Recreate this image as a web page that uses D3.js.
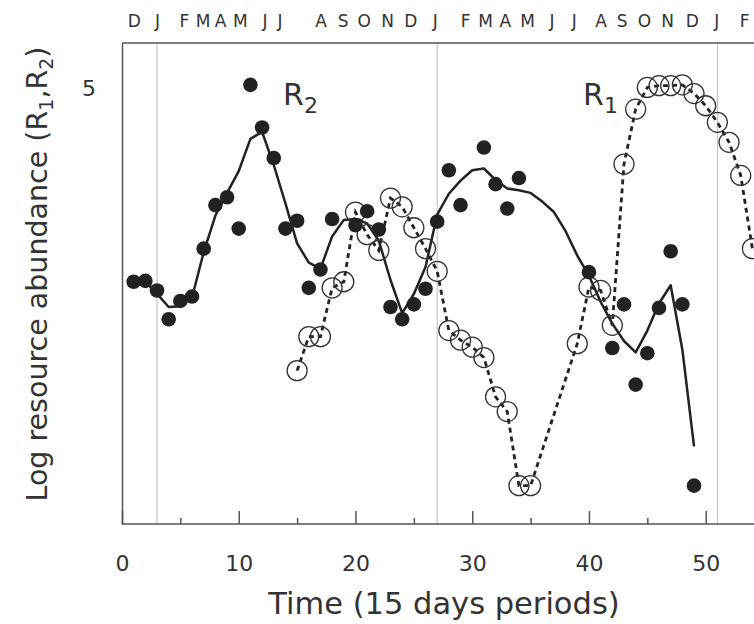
<!DOCTYPE html>
<html>
<head>
<meta charset="utf-8">
<script src="https://cdn.jsdelivr.net/npm/d3@7"></script>
<style>
  body { margin: 0; background: #fff; }
  text { font-family: "DejaVu Sans", sans-serif; fill: #333; }
</style>
</head>
<body>
<script>
// month initials along the top, and where they sit (in 15-day periods)
const monthLabels = ["D","J","F","M","A","M","J","J","A","S","O","N","D","J","F","M","A","M","J","J","A","S","O","N","D","J","F"];
const monthPos = [1.0, 3.0, 5.3, 6.9, 8.4, 10.1, 12.2, 13.5, 17.0, 18.9, 20.7, 22.7, 24.7, 26.8,
                  29.4, 31.1, 32.8, 34.7, 36.8, 38.7, 41.0, 42.8, 44.7, 46.7, 48.8, 50.9, 53.3];
const janPos = [3, 27, 51];
const xTicks = [0, 10, 20, 30, 40, 50];
const xMinor = [5, 15, 25, 35, 45];
const yTicks = [5];

// R2 observations (filled dots)
const r2T   = [1, 2, 3, 4, 5, 6, 7, 8, 9, 10, 11, 12, 13, 14, 15, 16, 17, 18, 20, 21, 22, 23, 24, 25, 26,
               27, 28, 29, 31, 32, 33, 34, 40, 42, 43, 44, 45, 46, 47, 48, 49];
const r2Obs = [2.78, 2.79, 2.68, 2.35, 2.56, 2.61, 3.16, 3.66, 3.75, 3.39, 5.04, 4.55, 4.20, 3.39, 3.48,
               2.71, 2.92, 3.50, 3.43, 3.59, 3.38, 2.49, 2.35, 2.52, 2.70,
               3.47, 4.06, 3.66, 4.32, 3.90, 3.62, 3.97, 2.89, 2.02, 2.52, 1.60, 1.96, 2.48, 3.13, 2.52, 0.44];

// R2 smoothed (solid line)
const fitT  = [2, 3, 4, 5, 6, 7, 8, 9, 10, 11, 12, 13, 14, 15, 16, 17, 18, 19, 20, 21, 22, 23, 24, 25,
               26, 27, 28, 29, 30, 31, 32, 33, 34, 35, 36, 37, 38, 39, 40, 41, 42, 43, 44, 45, 46, 47, 48, 49];
const r2Fit = [2.78, 2.64, 2.49, 2.50, 2.60, 3.12, 3.54, 3.80, 4.05, 4.42, 4.50, 4.12, 3.68, 3.22, 3.00,
               2.93, 3.30, 3.49, 3.50, 3.45, 3.25, 2.80, 2.42, 2.64, 2.95, 3.55, 3.79, 3.94, 4.06, 4.08,
               3.95, 3.85, 3.83, 3.80, 3.70, 3.58, 3.36, 3.08, 2.85, 2.55, 2.30, 2.10, 1.97, 2.22, 2.53,
               2.74, 2.00, 0.89];

// R1 observations (open circles, dashed line)
const r1T   = [15, 16, 17, 18, 19, 20, 21, 22, 23, 24, 25, 26, 27, 28, 29, 30, 31, 32, 33, 34, 35,
               39, 40, 41, 42, 43, 44, 45, 46, 47, 48, 49, 50, 51, 52, 53, 54];
const r1Obs = [1.76, 2.15, 2.15, 2.71, 2.78, 3.58, 3.32, 3.14, 3.74, 3.64, 3.40, 3.16, 2.90, 2.22, 2.11,
               2.03, 1.91, 1.46, 1.29, 0.44, 0.44, 2.07, 2.72, 2.68, 2.28, 4.13, 4.76, 5.01, 5.03, 5.03,
               5.04, 4.94, 4.80, 4.61, 4.38, 4.00, 3.16];

const width = 754, height = 624;
const plotTop = 43, plotBottom = 524, plotLeft = 122;

const x = d3.scaleLinear().domain([0, 50]).range([plotLeft, 705.7]);
const y = d3.scaleLinear().domain([0, 5.52]).range([plotBottom, plotTop]);

const svg = d3.select("body").append("svg")
  .attr("width", width)
  .attr("height", height)
  .attr("viewBox", [0, 0, width, height]);

// January guide lines
svg.append("g")
  .selectAll("line")
  .data(janPos)
  .join("line")
  .attr("x1", d => x(d)).attr("x2", d => x(d))
  .attr("y1", plotTop).attr("y2", plotBottom)
  .attr("stroke", "#bbb")
  .attr("stroke-width", 1);

// frame: top and bottom lines run off the right edge
svg.append("line")
  .attr("x1", plotLeft).attr("x2", width)
  .attr("y1", plotTop).attr("y2", plotTop)
  .attr("stroke", "#555").attr("stroke-width", 1.5);
svg.append("line")
  .attr("x1", plotLeft).attr("x2", width)
  .attr("y1", plotBottom).attr("y2", plotBottom)
  .attr("stroke", "#555").attr("stroke-width", 1.5);

// bottom axis, ticks pointing up
const xAxis = d3.axisBottom(x).tickValues(xTicks).tickSize(-13).tickPadding(31).tickFormat(d3.format("d"));
svg.append("g")
  .attr("transform", `translate(0,${plotBottom})`)
  .call(xAxis)
  .call(g => g.select(".domain").remove())
  .call(g => g.selectAll(".tick line").attr("stroke", "#555").attr("stroke-width", 1.5))
  .call(g => g.selectAll(".tick text").attr("font-size", 22).attr("font-family", "DejaVu Sans").attr("fill", "#333"));

svg.append("g")
  .attr("transform", `translate(0,${plotBottom})`)
  .call(d3.axisBottom(x).tickValues(xMinor).tickSize(-6).tickFormat(""))
  .call(g => g.select(".domain").remove())
  .call(g => g.selectAll(".tick line").attr("stroke", "#555").attr("stroke-width", 1.5));

// left axis: only the line and the "5"
svg.append("g")
  .attr("transform", `translate(${plotLeft},0)`)
  .call(d3.axisLeft(y).tickValues(yTicks).tickSize(0).tickPadding(26).tickSizeOuter(0).tickFormat(d3.format("d")))
  .call(g => g.select(".domain").attr("stroke", "#555").attr("stroke-width", 1.5))
  .call(g => g.selectAll(".tick text").attr("font-size", 22).attr("font-family", "DejaVu Sans").attr("fill", "#333"));

// month initials on top
svg.append("g")
  .attr("transform", `translate(0,${plotTop})`)
  .call(d3.axisTop(x).tickValues(monthPos).tickSize(0).tickPadding(16).tickFormat((d, i) => monthLabels[i]))
  .call(g => g.select(".domain").remove())
  .call(g => g.selectAll(".tick text").attr("font-size", 17).attr("font-family", "DejaVu Sans").attr("fill", "#333"));

// R2 smoothed line
const fitLine = d3.line().x(i => x(fitT[i])).y(i => y(r2Fit[i]));
svg.append("path")
  .attr("d", fitLine(d3.range(fitT.length)))
  .attr("fill", "none")
  .attr("stroke", "#222")
  .attr("stroke-width", 2.5)
  .attr("stroke-linejoin", "round");

// R1 dashed line
const r1Line = d3.line().x(i => x(r1T[i])).y(i => y(r1Obs[i]));
svg.append("path")
  .attr("d", r1Line(d3.range(r1T.length)))
  .attr("fill", "none")
  .attr("stroke", "#222")
  .attr("stroke-width", 2.8)
  .attr("stroke-dasharray", "5,4");

// R1 open circles
svg.append("g")
  .selectAll("circle")
  .data(d3.range(r1T.length))
  .join("circle")
  .attr("cx", i => x(r1T[i]))
  .attr("cy", i => y(r1Obs[i]))
  .attr("r", 10)
  .attr("fill", "none")
  .attr("stroke", "#333")
  .attr("stroke-width", 1.3);

// R2 filled dots
svg.append("g")
  .selectAll("circle")
  .data(d3.range(r2T.length))
  .join("circle")
  .attr("cx", i => x(r2T[i]))
  .attr("cy", i => y(r2Obs[i]))
  .attr("r", 7.3)
  .attr("fill", "#222");

// series labels
function seriesLabel(xp, yp, sub) {
  const t = svg.append("text").attr("x", xp).attr("y", yp).attr("font-size", 30);
  t.append("tspan").text("R");
  t.append("tspan").attr("font-size", 22).attr("dy", 8).text(sub);
}
seriesLabel(x(13.8), 105, "2");
seriesLabel(x(39.5), 105, "1");

// axis titles
svg.append("text")
  .attr("x", 444).attr("y", 614)
  .attr("text-anchor", "middle")
  .attr("font-size", 30.5)
  .text("Time (15 days periods)");

const yTitle = svg.append("text")
  .attr("transform", "translate(47,274) rotate(-90)")
  .attr("text-anchor", "middle")
  .attr("font-size", 28.5);
yTitle.append("tspan").text("Log resource abundance (R");
yTitle.append("tspan").attr("font-size", 19).attr("dy", 6).text("1");
yTitle.append("tspan").attr("dy", -6).text(",R");
yTitle.append("tspan").attr("font-size", 19).attr("dy", 6).text("2");
yTitle.append("tspan").attr("dy", -6).text(")");
</script>
</body>
</html>
